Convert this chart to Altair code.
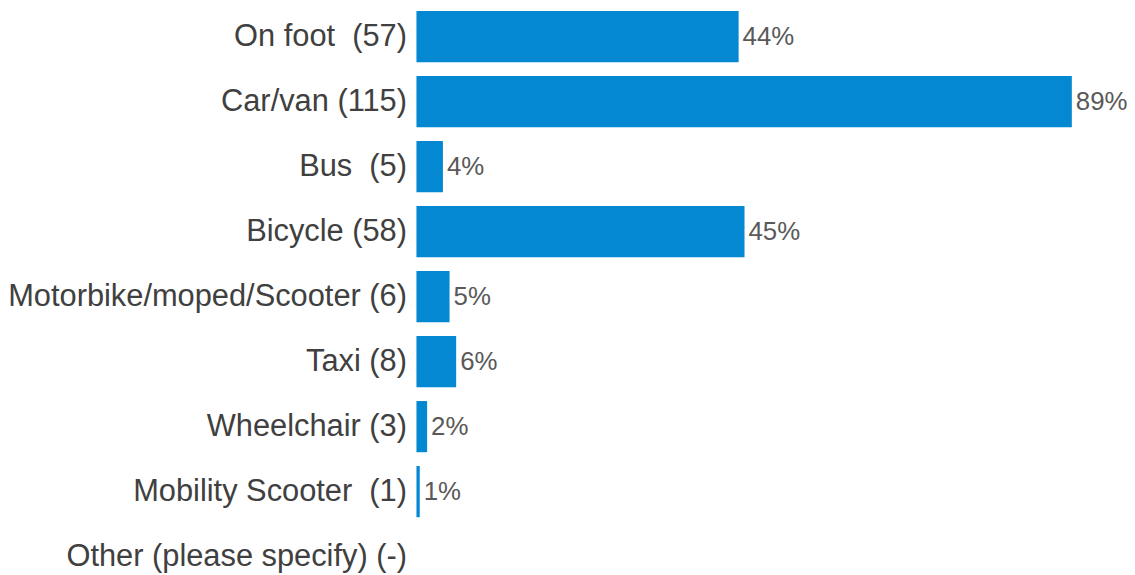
import altair as alt
import pandas as pd

categories = [
    "On foot\u00a0 (57)",
    "Car/van (115)",
    "Bus\u00a0 (5)",
    "Bicycle (58)",
    "Motorbike/moped/Scooter (6)",
    "Taxi (8)",
    "Wheelchair (3)",
    "Mobility Scooter\u00a0 (1)",
    "Other (please specify) (-)",
]
values = [43.8, 89.1, 3.6, 44.6, 4.5, 5.4, 1.45, 0.45, 0.0]
labels = ["44%", "89%", "4%", "45%", "5%", "6%", "2%", "1%", ""]

df = pd.DataFrame({"cat": categories, "val": values, "lab": labels})

y = alt.Y(
    "cat:N",
    sort=categories,
    title=None,
    scale=alt.Scale(paddingInner=0.2125, paddingOuter=0),
    axis=alt.Axis(
        ticks=False,
        domain=False,
        grid=False,
        labelFont="Liberation Sans",
        labelFontSize=31,
        labelColor="#404040",
        labelPadding=10,
        labelLimit=0,
    ),
)
x = alt.X(
    "val:Q",
    title=None,
    scale=alt.Scale(domain=[0, 96.6], nice=False, zero=True),
    axis=None,
)

bars = alt.Chart(df).mark_bar(color="#0588D2").encode(x=x, y=y)
text = (
    alt.Chart(df)
    .mark_text(
        align="left",
        baseline="middle",
        dx=4,
        font="Liberation Sans",
        fontSize=26,
        color="#595959",
    )
    .encode(x=x, y=y, text="lab:N")
)

chart = (
    alt.layer(bars, text)
    .properties(
        width=715,
        height=574.7,
        padding={"left": 411, "top": 1.3, "right": 0, "bottom": 0},
        autosize=alt.AutoSizeParams(type="none"),
    )
    .configure_view(stroke=None)
)

chart.save("out.html", embed_options={"renderer": "svg", "actions": False})
